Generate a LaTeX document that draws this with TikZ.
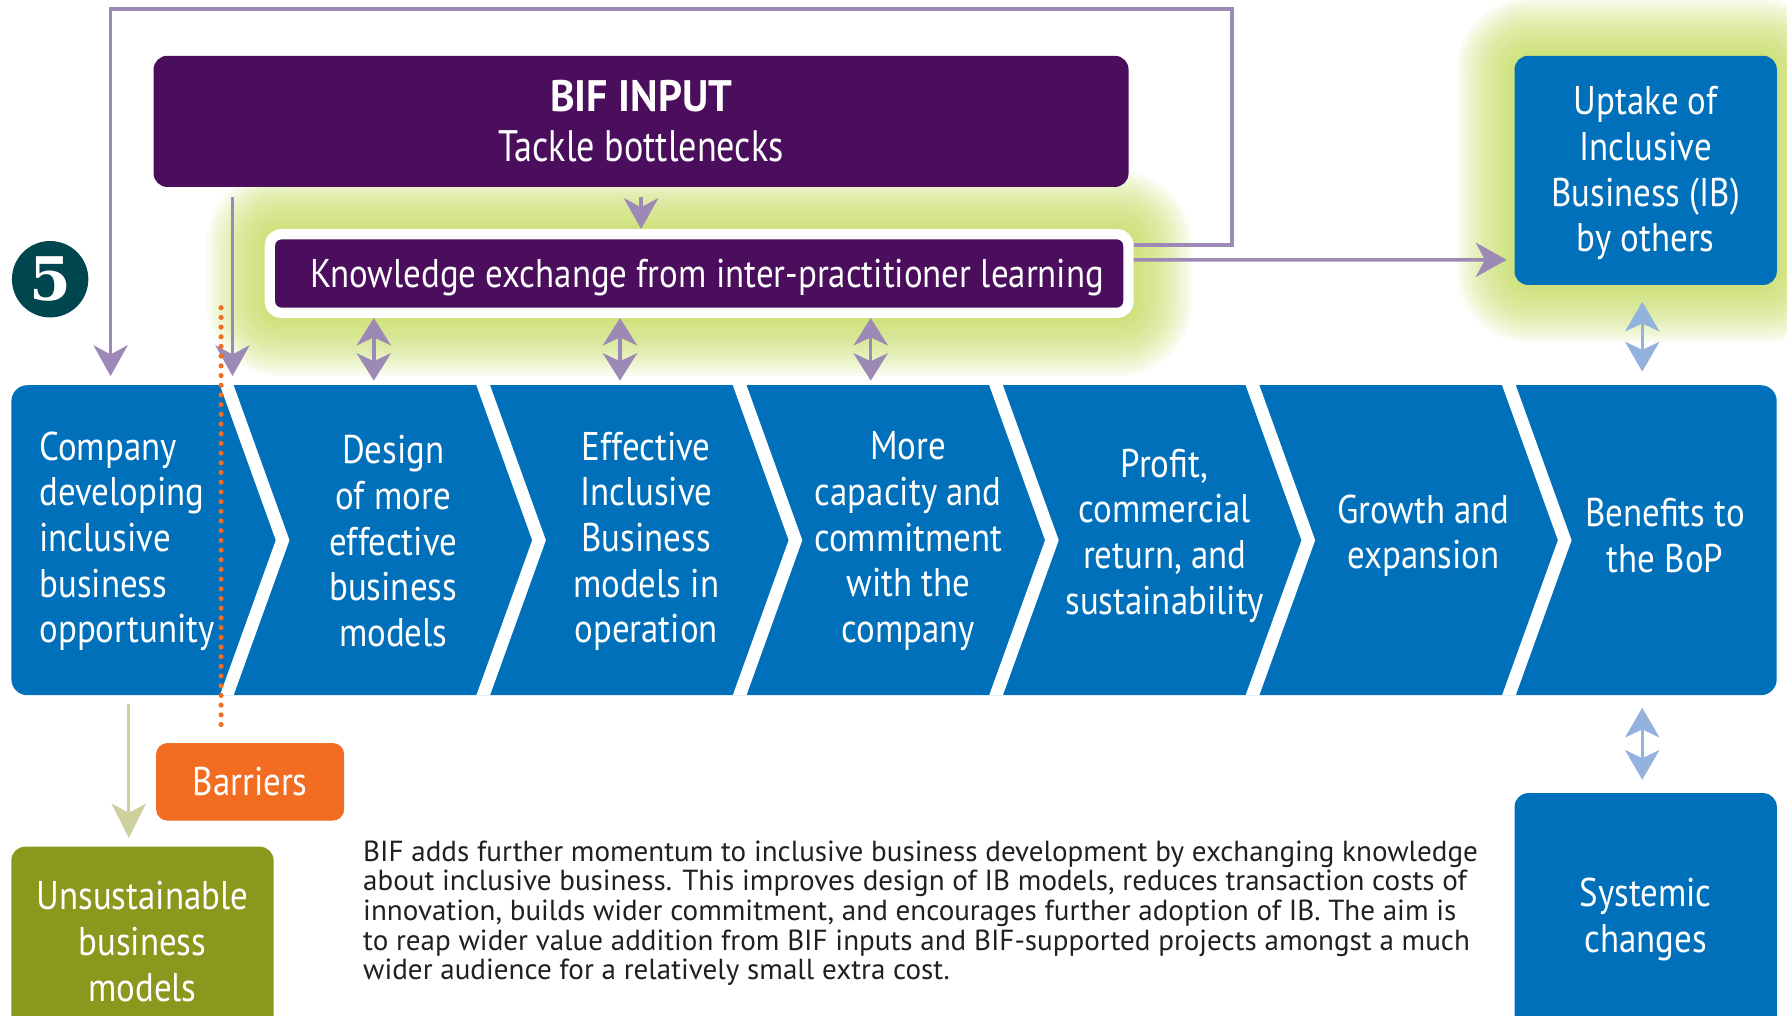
\documentclass[tikz,border=0pt]{standalone}
\usepackage{fontspec}
\usepackage{tikz}
\usetikzlibrary{arrows.meta}
\setmainfont{PT Sans}
\newfontfamily\boxFont{PT Sans}[FakeStretch=0.87]
\newfontfamily\numberFont{DejaVu Serif}
\tikzstyle{canvas} = [x = .01cm, y = -.01cm]
\definecolor{stepBlue}{RGB}{0,112,186}
\definecolor{bifPurple}{RGB}{75,14,93}
\definecolor{linkPurple}{RGB}{157,137,181}
\definecolor{linkBlue}{RGB}{148,178,222}
\definecolor{glowGreen}{RGB}{190,216,80}
\definecolor{barrierOrange}{RGB}{242,108,34}
\definecolor{failOlive}{RGB}{138,153,30}
\definecolor{failArrow}{RGB}{205,208,156}
\definecolor{circleTeal}{RGB}{0,70,78}
\definecolor{bodyGray}{RGB}{35,31,32}
\tikzstyle{boxText} = [text=white, font=\boxFont\fontsize{10}{11.4}\selectfont, align=center]
\tikzstyle{roundBox} = [rounded corners=.12cm, inner sep=0pt, boxText]
\tikzstyle{linkLine} = [color=linkPurple, line width=.03cm]
\tikzstyle{linkTip} = [-{Stealth[length=.27cm, width=.3cm, inset=.08cm]}]
\tikzstyle{exchangeTips} = [{Stealth[length=.24cm, width=.3cm, inset=.07cm]}-{Stealth[length=.24cm, width=.3cm, inset=.07cm]}]
\tikzstyle{blueLink} = [color=linkBlue, line width=.03cm, {Stealth[length=.26cm, width=.3cm, inset=.07cm]}-{Stealth[length=.26cm, width=.3cm, inset=.07cm]}]
\tikzstyle{failLink} = [color=failArrow, line width=.03cm, -{Stealth[length=.3cm, width=.3cm, inset=.08cm]}]
\tikzstyle{barrierLine} = [color=barrierOrange, line width=.045cm, line cap=round, dash pattern=on 0pt off .085cm]
\newcommand{\rowLeft}{10}
\newcommand{\rowRight}{1559}
\newcommand{\rowTop}{338}
\newcommand{\rowMid}{474}
\newcommand{\rowBottom}{610}
\newcommand{\tipDepth}{49}
\newcommand{\gapWidth}{12}
% soft lime halo behind a box
\newcommand{\glow}[4]{
  \foreach \g in {1,...,17} {
    \pgfmathsetmacro{\rad}{.14 + .03 * \g}
    \fill [glowGreen, opacity=.075, rounded corners=\rad cm] (#1 - 3 * \g, #2 - 3 * \g) rectangle (#3 + 3 * \g, #4 + 3 * \g);
  }
}
% white chevron cut between two steps
\newcommand{\stepGap}[1]{\fill [white] (#1, \rowTop) -- (#1 + \tipDepth, \rowMid) -- (#1, \rowBottom) -- (#1 + \gapWidth, \rowBottom) -- (#1 + \gapWidth + \tipDepth, \rowMid) -- (#1 + \gapWidth, \rowTop) -- cycle;}

\begin{document}
\begin{tikzpicture}[canvas]
  \useasboundingbox (0,0) rectangle (1568,891);
  \clip (0,0) rectangle (1568,891);

  \glow{232}{201}{995}{279}
  \glow{1329}{49}{1559}{250}

  \node [roundBox, fill=bifPurple, minimum width=8.55cm, minimum height=1.15cm, font=\boxFont\fontsize{11}{12.5}\selectfont] (bifInput) at (562.5, 106.5) {\textbf{\addfontfeatures{FakeStretch=0.95}BIF INPUT}\\\addfontfeatures{FakeStretch=0.82}Tackle bottlenecks};
  \node [boxText, fill=bifPurple, draw=white, line width=.09cm, rounded corners=.1cm, inner sep=0pt, minimum width=7.53cm, minimum height=.69cm, text depth=0pt] (knowledge) at (613.5, 240) {\hspace*{.14cm}Knowledge exchange from inter-practitioner learning};
  \node [roundBox, fill=stepBlue, minimum width=2.3cm, minimum height=2.01cm] (uptake) at (1444, 149.5) {\\[-.1cm]Uptake of\\Inclusive\\Business (IB)\\by others};
  \node [circle, fill=circleTeal, minimum size=.67cm, inner sep=0pt, text=white, font=\numberFont\bfseries\fontsize{15}{15}\selectfont] (stepNumber) at (44, 245) {5};

  % the value chain
  \fill [stepBlue, rounded corners=.14cm] (\rowLeft, \rowTop) rectangle (\rowRight, \rowBottom);
  \foreach \t in {193, 418, 643, 868, 1093, 1318} {
    \stepGap{\t}
  }
  \node [boxText, align=left, anchor=west, inner sep=0pt] (step1) at (34, 475) {Company\\developing\\inclusive\\business\\opportunity};
  \node [boxText] (step2) at (345, 475) {Design\\of more\\effective\\business\\models};
  \node [boxText] (step3) at (567, 475) {Effective\\Inclusive\\Business\\models in\\operation};
  \node [boxText] (step4) at (797, 475) {More\\capacity and\\commitment\\with the\\company};
  \node [boxText] (step5) at (1022, 470) {Profit,\\commercial\\return, and\\sustainability};
  \node [boxText] (step6) at (1249, 470) {Growth and\\expansion};
  \node [boxText] (step7) at (1461, 470) {Benefits to\\the BoP};

  \node [roundBox, fill=barrierOrange, rounded corners=.1cm, minimum width=1.65cm, minimum height=.68cm] (barriers) at (219.5, 686) {Barriers};
  \node [roundBox, fill=failOlive, minimum width=2.3cm, minimum height=1.66cm] (unsustainable) at (125, 826) {Unsustainable\\business\\models};
  \node [roundBox, fill=stepBlue, minimum width=2.3cm, minimum height=2.22cm] (systemic) at (1444, 807) {Systemic\\changes};
  \node [anchor=north west, align=left, inner sep=0pt, text=bodyGray, font=\fontsize{7.25}{7.4}\selectfont] (summary) at (318, 737) {BIF adds further momentum to inclusive business development by exchanging knowledge\\about inclusive business. This improves design of IB models, reduces transaction costs of\\innovation, builds wider commitment, and encourages further adoption of IB. The aim is\\to reap wider value addition from BIF inputs and BIF-supported projects amongst a much\\wider audience for a relatively small extra cost.};

  % connectors
  \coordinate (loopCorner) at (1081, 8);
  \coordinate (companyIn) at (97, 330);
  \coordinate (designIn) at (204, 330);
  \coordinate (uptakeIn) at (1322, 228);
  \coordinate (benefitTop) at (1441, 326);
  \coordinate (benefitBottom) at (1441, 621);
  \coordinate (companyOut) at (113, 618);
  \coordinate (barrierTop) at (194, 270);

  \draw [linkLine, linkTip] ([yshift=.25cm]knowledge.east) -| (loopCorner) -| (companyIn);
  \draw [linkLine, linkTip] ([yshift=.12cm]knowledge.east) -- (uptakeIn);
  \draw [linkLine, linkTip, shorten <=.08cm] (bifInput.south) -- (bifInput.south |- knowledge.north);
  \draw [linkLine, linkTip, shorten <=.08cm] (bifInput.south -| designIn) -- (designIn);
  \foreach \xpos [count=\n] in {328, 544, 764} {
    \coordinate (exchangeIn\n) at (\xpos, 334);
    \draw [linkLine, exchangeTips] (knowledge.south -| exchangeIn\n) -- (exchangeIn\n);
  }
  \draw [blueLink, shorten <=.14cm] (uptake.south -| benefitTop) -- (benefitTop);
  \draw [blueLink, shorten >=.11cm] (benefitBottom) -- (systemic.north -| benefitBottom);
  \draw [failLink, shorten >=.07cm] (companyOut) -- (unsustainable.north -| companyOut);
  \draw [barrierLine, shorten >=.12cm] (barrierTop) -- (barriers.north -| barrierTop);
\end{tikzpicture}
\end{document}
